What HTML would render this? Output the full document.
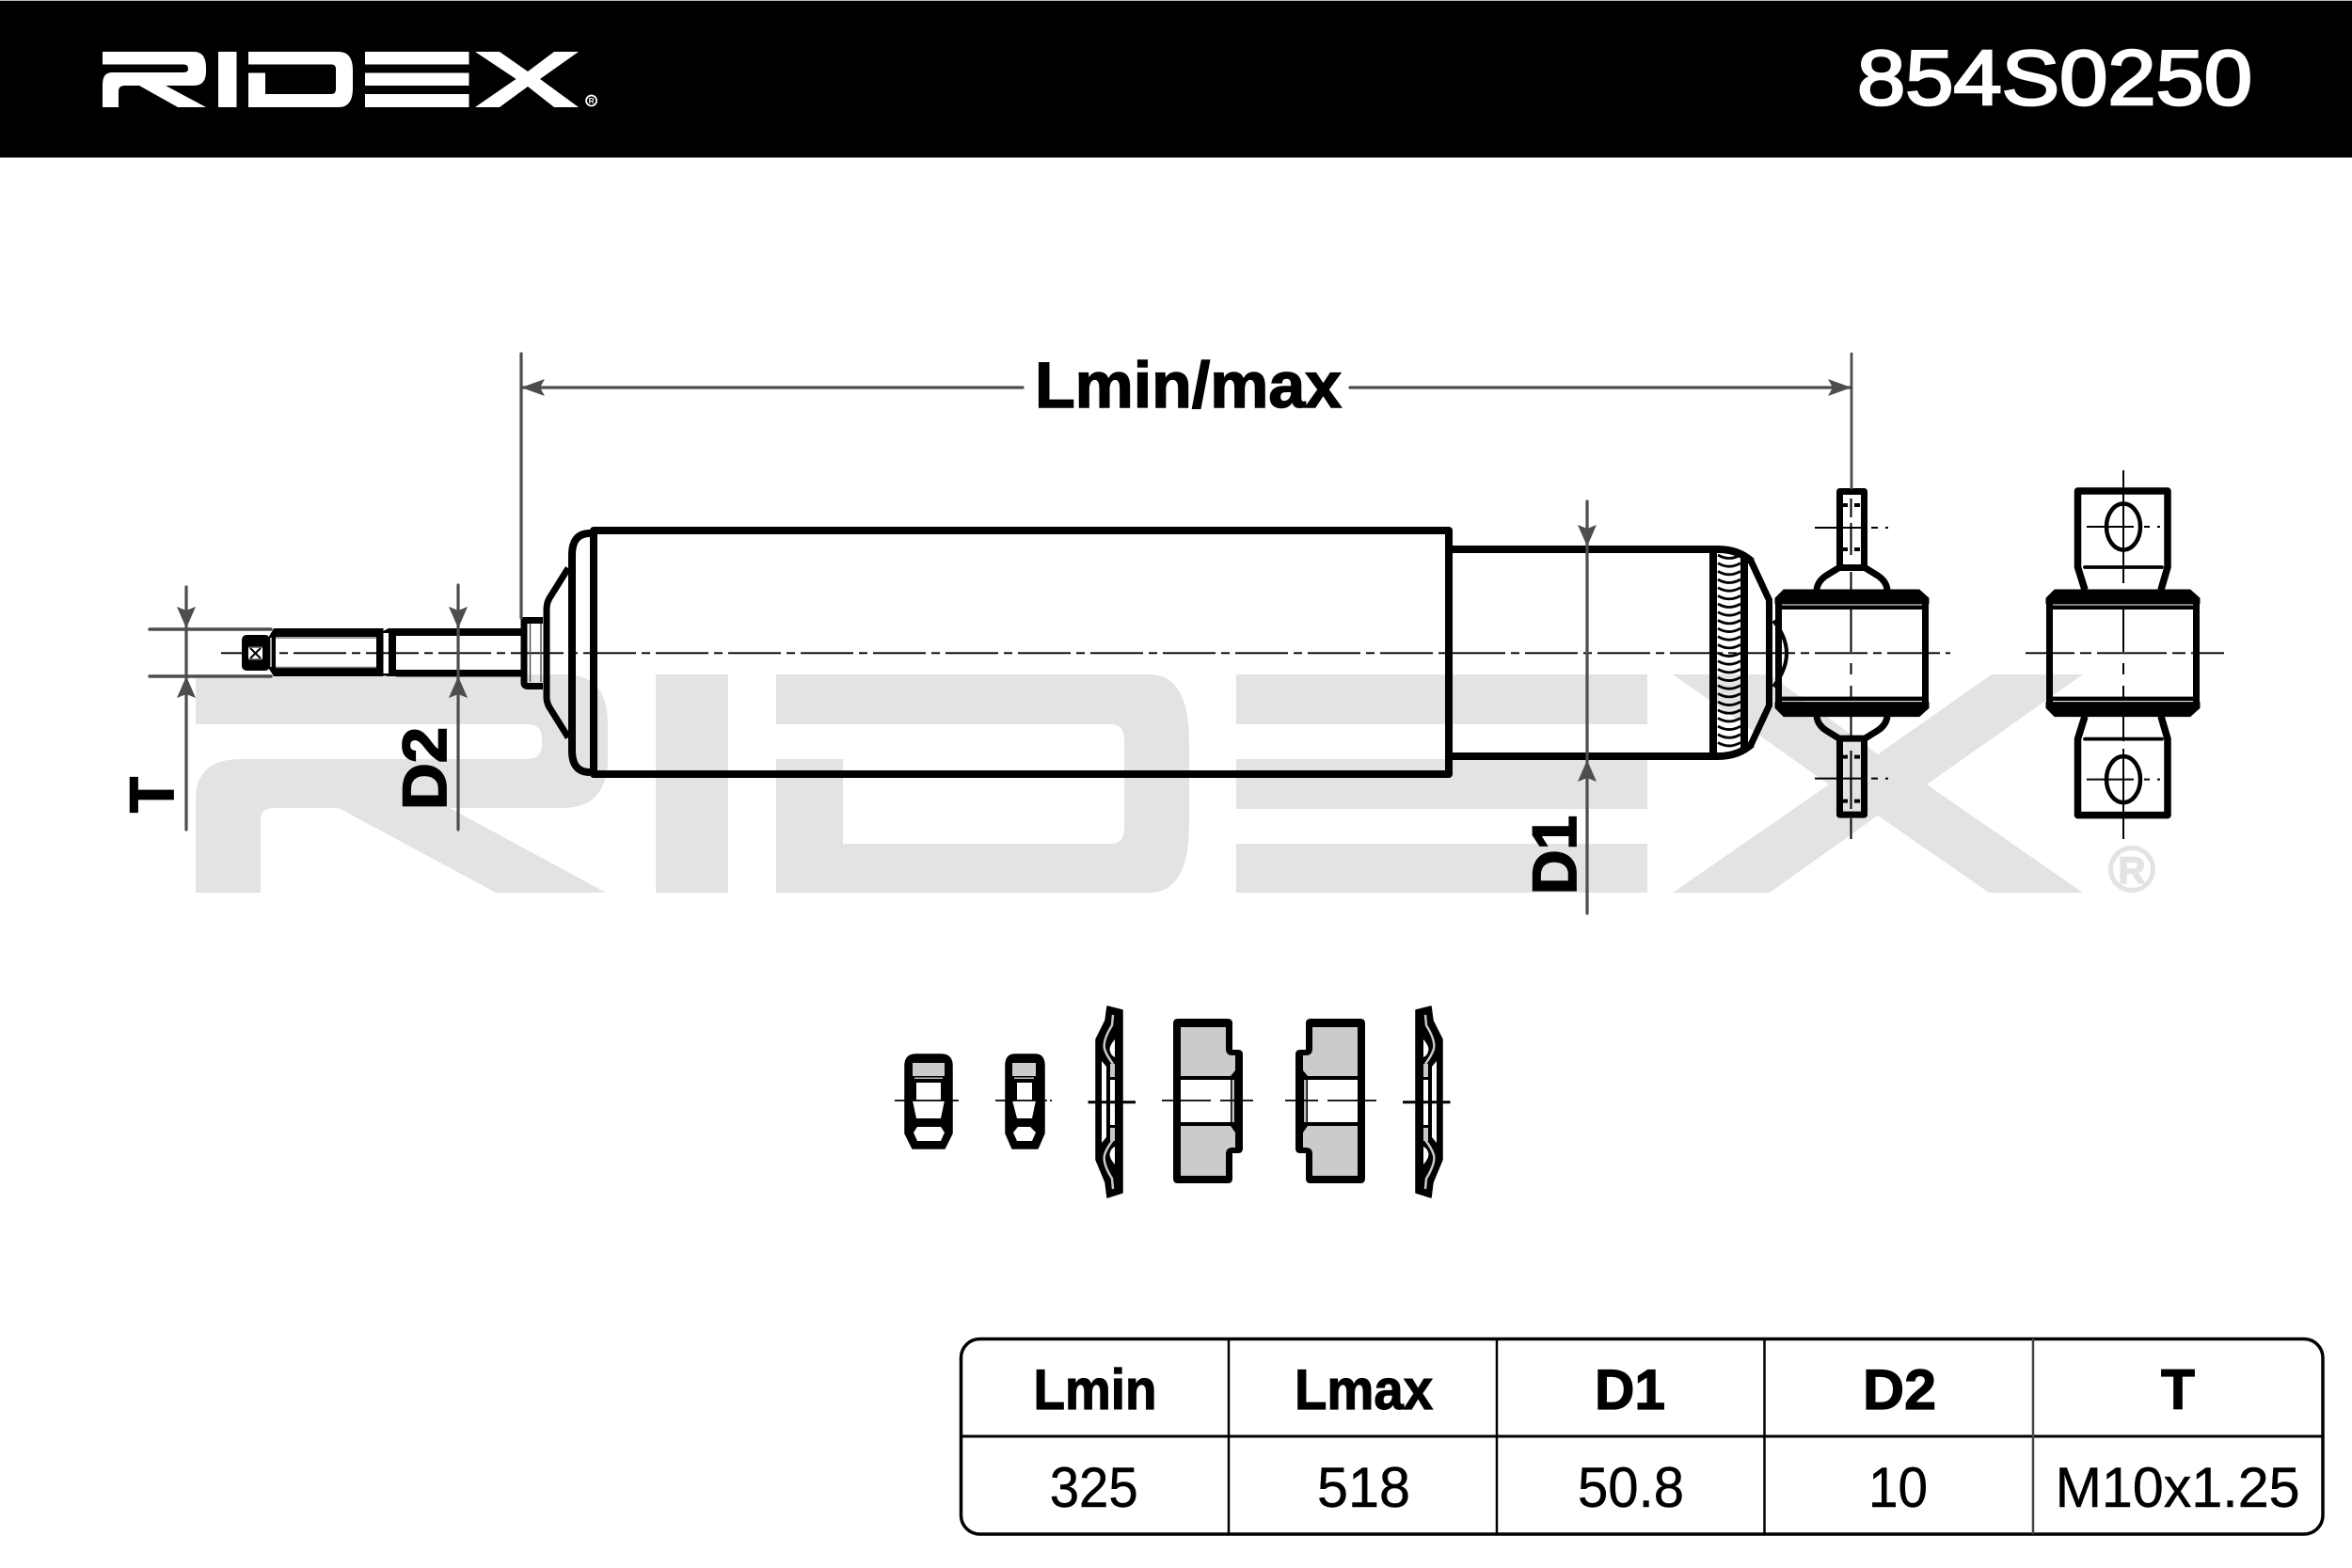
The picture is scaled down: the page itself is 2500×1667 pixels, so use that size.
<!DOCTYPE html>
<html><head><meta charset="utf-8"><style>
html,body{margin:0;padding:0;background:#fff}
svg{display:block}
text{font-family:"Liberation Sans",sans-serif}
.b{font-weight:bold}
</style></head><body>
<svg xmlns="http://www.w3.org/2000/svg" xmlns:xlink="http://www.w3.org/1999/xlink" width="2500" height="1667" viewBox="0 0 2500 1667">
<rect width="2500" height="1667" fill="#fff"/>
<!-- header -->
<rect x="0" y="0" width="2500" height="1" fill="#bbb"/>
<rect x="0" y="1" width="2500" height="166.500" fill="#000"/>
<g fill="#fff">
<path d="M109,55H206Q219,55 219,72V76Q219,91 206,91H176L219,114H189L148,91H133Q126,91 126,97V114H109V90Q109,77 119,77H195Q200,77 200,73Q200,68.500 195,68.500H109Z"/>
<rect x="232" y="55" width="19.500" height="59"/>
<path d="M264,55H360Q375,55 375,75V94Q375,114 360,114H264V77.500H282V100H352Q357,100 357,95V73Q357,68.500 352,68.500H264Z"/>
<rect x="388" y="55" width="110.500" height="13.500"/><rect x="388" y="77.500" width="110.500" height="13.500"/><rect x="388" y="100" width="110.500" height="14"/>
<path d="M505,55H531L561,76L589,55H615L574,84L615,114H589L561,92L531,114H505L548.500,84Z"/>
</g>
<circle cx="628.600" cy="107" r="5.500" fill="none" stroke="#fff" stroke-width="1.800"/>
<text x="628.600" y="110" font-size="8" class="b" fill="#fff" text-anchor="middle">R</text>
<text x="1974" y="111" font-size="83" fill="#fff" stroke="#fff" stroke-width="2.600" textLength="420" lengthAdjust="spacingAndGlyphs">854S0250</text>

<!-- watermark -->
<g fill="#e3e3e3">
<path d="M208,717H600Q646,717 646,770V806Q646,859 598,859H478L644,949H527L360,859H290Q277,859 277,872V949H208V850Q208,807 256,807H560Q576,807 576,792V785Q576,770 560,770H208Z"/>
<rect x="697" y="717" width="77" height="232"/>
<path d="M825,717H1222Q1264,717 1264,790V876Q1264,949 1222,949H825V807H896V897H1180Q1195,897 1195,880V787Q1195,770 1180,770H825Z"/>
<rect x="1314" y="717" width="437" height="53"/><rect x="1314" y="807" width="437" height="53"/><rect x="1314" y="897" width="437" height="52"/>
<path d="M1778,717H1881L1996,802L2117,717H2214L2048,834L2214,949H2114L1996,867L1881,949H1778L1944,834Z"/>
</g>
<circle cx="2266" cy="924" r="22.500" fill="none" stroke="#e3e3e3" stroke-width="5"/>
<text x="2266" y="939" font-size="40" class="b" fill="#e3e3e3" stroke="#e3e3e3" stroke-width="1.500" text-anchor="middle">R</text>

<!-- center line -->
<g stroke="#000" stroke-width="1.800" fill="none">
<path d="M235,694.300H2073" stroke-dasharray="56 6 9 6"/>
<path d="M2153,694.300H2365" stroke-dasharray="52 6 12 6 74 6 14 6 3 2 30"/>
</g>

<!-- rod -->
<g fill="#000">
<rect x="257" y="675" width="30" height="38" rx="5"/>
<path d="M284,680L291,668H407V677H293V710H407V719H291L284,708Z"/>
<rect x="400" y="668" width="7.500" height="51"/>
<path d="M407,671L413,668V673H407ZM407,716H413V719L407,718Z"/>
<rect x="413" y="668" width="8" height="51"/>
<rect x="421" y="668" width="135" height="8"/>
<rect x="421" y="712" width="135" height="7.500"/>
</g>
<rect x="264" y="688" width="15" height="13" fill="#fff"/>
<path d="M266,689L277,700M277,689L266,700" stroke="#000" stroke-width="2" fill="none"/>
<path d="M264,688H279M264,701H279" stroke="#555" stroke-width="1.500" fill="none"/>
<path d="M288,678V709" stroke="#fff" stroke-width="1.300"/>
<path d="M293,678H400M293,709.500H400" stroke="#777" stroke-width="1.500"/>
<!-- flange -->
<path d="M577,659.500H557V726Q557,729.500 561,729.500H577" fill="none" stroke="#000" stroke-width="7"/>
<path d="M563.500,663V725M575,663V725" stroke="#555" stroke-width="1.500"/>
<!-- dust cover -->
<g fill="none" stroke="#000">
<path d="M627,567Q608,567 608,590V798Q608,821 627,821" stroke-width="8"/>
<path d="M604,604L584,636Q581,641 581,648V741Q581,747 584,752L604,784" stroke-width="7"/>
<rect x="631" y="564" width="909" height="259" stroke-width="8" stroke-linejoin="round"/>
<!-- tube -->
<path d="M1541,584H1826Q1848,584 1862,597M1541,804H1826Q1848,804 1862,791" stroke-width="8"/>
<path d="M1821,584V804" stroke-width="8"/>
<path d="M1854,592V796" stroke-width="8"/>
<path d="M1860,594L1880.500,638V750L1860,794" stroke-width="7"/>
<path d="M1826,590q12,7 24,0m-24,8.670q12,7 24,0m-24,8.670q12,7 24,0m-24,8.670q12,7 24,0m-24,8.670q12,7 24,0m-24,8.670q12,7 24,0m-24,8.670q12,7 24,0m-24,8.670q12,7 24,0m-24,8.670q12,7 24,0m-24,8.670q12,7 24,0m-24,8.670q12,7 24,0m-24,8.670q12,7 24,0m-24,8.670q12,7 24,0m-24,8.670q12,7 24,0m-24,8.670q12,7 24,0m-24,8.670q12,7 24,0m-24,8.670q12,7 24,0m-24,8.670q12,7 24,0m-24,8.670q12,7 24,0m-24,8.670q12,7 24,0m-24,8.670q12,7 24,0m-24,8.670q12,7 24,0m-24,8.670q12,7 24,0m-24,8.670q12,7 24,0" stroke-width="2.800"/>
<path d="M1885,660Q1913,694 1885,730" stroke-width="4"/>
</g>

<defs>
<g id="bh">
<path d="M1887,640V636L1896,627H2040L2050,636V640V642H1887Z" fill="#000" stroke="#000" stroke-width="1" stroke-linejoin="round"/>
<rect x="1887" y="643.500" width="163" height="4.500" fill="#000"/>
<rect x="1887" y="636" width="7" height="60" fill="#000"/>
<rect x="2043" y="636" width="7" height="60" fill="#000"/>
</g>
</defs>

<!-- left view eye -->
<use xlink:href="#bh" href="#bh"/>
<use xlink:href="#bh" href="#bh" transform="matrix(1 0 0 -1 0 1388.600)"/>
<use xlink:href="#bh" href="#bh" transform="translate(288,0)"/>
<use xlink:href="#bh" href="#bh" transform="translate(288,0) matrix(1 0 0 -1 0 1388.600)"/>

<g id="stT" fill="none" stroke="#000">
<path d="M1955.500,604V522.500H1981.500V604" stroke-width="7" stroke-linejoin="round"/>
<path d="M1953,603.500H1984" stroke-width="7"/>
<path d="M1954,604L1941,612Q1932,618 1931,627M1983,604L1996,612Q2005,618 2006,627" stroke-width="7"/>
<path d="M1959,537H1964M1971,537H1977M1959,584H1964M1971,584H1977" stroke-width="4"/>
<path d="M1929,561H1979M1989,561H1996M2004,561H2007" stroke-width="2"/>
</g>
<use xlink:href="#stT" href="#stT" transform="matrix(1 0 0 -1 0 1388.600)"/>

<!-- right view tabs -->
<g id="tabT" fill="none" stroke="#000">
<path d="M2216,627L2208.500,603V522H2304V603L2297,627" stroke-width="7.500" stroke-linejoin="round"/>
<path d="M2216,603H2298" stroke-width="3.800" stroke-linecap="round"/>
<ellipse cx="2257" cy="560" rx="18" ry="24.500" stroke-width="4.500"/>
<path d="M2218,560H2268M2279,560H2285M2293,560H2296" stroke-width="2"/>
</g>
<use xlink:href="#tabT" href="#tabT" transform="matrix(1 0 0 -1 0 1388.600)"/>

<!-- vertical center lines -->
<g stroke="#000" stroke-width="2" fill="none">
<path d="M1967.500,530V550M1967.500,556V590M1967.500,608V627M1967.500,647V693M1967.500,705V717M1967.500,729V742M1967.500,762V785M1967.500,798V860M1967.500,870V892"/>
<path d="M2257,500V620M2257,647V693M2257,705V717M2257,729V742M2257,762V788M2257,796V892"/>
</g>

<!-- dimensions -->
<g stroke="#4d4d4d" stroke-width="3.200" fill="none" stroke-linecap="round">
<path d="M554,376V657"/>
<path d="M1968,376V519" stroke-width="2.800"/>
<path d="M554,412H1087M1435,412H1968"/>
<path d="M159,669H288M159,719H288" stroke-width="3.400"/>
<path d="M198,624V882"/>
<path d="M487,622V882"/>
<path d="M1687,533V971"/>
</g>
<g fill="#4d4d4d">
<path d="M554,412L579,403L574,412L579,421Z"/>
<path d="M1968,412L1943,403L1948,412L1943,421Z"/>
<path d="M198,668L188,645L198,649L208,645Z"/>
<path d="M198,719L188,742L198,738L208,742Z"/>
<path d="M487,668L477,645L487,649L497,645Z"/>
<path d="M487,719L477,742L487,738L497,742Z"/>
<path d="M1687,581L1677,558L1687,562L1697,558Z"/>
<path d="M1687,808L1677,831L1687,827L1697,831Z"/>
</g>
<text x="1100" y="433" font-size="69" class="b" fill="#000" stroke="#000" stroke-width="1.500" textLength="326" lengthAdjust="spacingAndGlyphs">Lmin/max</text>
<text transform="translate(184,864) rotate(-90)" font-size="66" class="b" fill="#000" stroke="#000" stroke-width="1.800" textLength="38" lengthAdjust="spacingAndGlyphs">T</text>
<text transform="translate(474,861) rotate(-90)" font-size="66" class="b" fill="#000" stroke="#000" stroke-width="1.800" textLength="88" lengthAdjust="spacingAndGlyphs">D2</text>
<text transform="translate(1675,951) rotate(-90)" font-size="66" class="b" fill="#000" stroke="#000" stroke-width="1.800" textLength="84" lengthAdjust="spacingAndGlyphs">D1</text>

<!-- small parts: nut 1 -->
<path d="M974,1121H1000Q1012,1121 1012,1133V1205L1004,1221H970L962,1205V1133Q962,1121 974,1121Z" fill="#000" stroke="#000" stroke-width="1.500" stroke-linejoin="round"/>
<rect x="970" y="1130" width="34" height="14" fill="#cbcbcb"/>
<rect x="972" y="1145.500" width="30" height="1.500" fill="#bbb"/>
<rect x="974" y="1151" width="26" height="19" fill="#fff"/>
<path d="M970,1170H1004L1000,1189H974Z" fill="#fff"/>
<path d="M971,1204L975,1198H1000L1004,1204L1000,1213H975Z" fill="#fff"/>
<path d="M951,1170H1019" stroke="#000" stroke-width="1.800"/>
<!-- nut 2 -->
<path d="M1079,1121H1100Q1110,1121 1110,1133V1205L1103,1221H1076L1069,1205V1133Q1069,1121 1079,1121Z" fill="#000" stroke="#000" stroke-width="1.500" stroke-linejoin="round"/>
<rect x="1076" y="1130" width="25" height="14" fill="#cbcbcb"/>
<rect x="1078" y="1145.500" width="21" height="1.500" fill="#bbb"/>
<rect x="1081" y="1151" width="16" height="19" fill="#fff"/>
<path d="M1076,1170H1101L1097,1189H1081Z" fill="#fff"/>
<path d="M1077,1204L1082,1198H1095L1101,1204L1097,1213H1081Z" fill="#fff"/>
<path d="M1058,1170H1113M1116,1170H1118" stroke="#000" stroke-width="1.800"/>

<!-- washer + bush, then mirrored -->
<g id="pr">
<path d="M1177,1070L1193,1074V1268L1177,1273L1175,1257L1165,1233V1105L1175,1085Z" fill="#000" stroke="#000" stroke-width="1.500" stroke-linejoin="round"/>
<path d="M1171,1128L1176,1134V1209L1171,1215Z" fill="#fff"/>
<rect x="1180" y="1148" width="5" height="48" fill="#fff"/>
<rect x="1180" y="1131" width="5" height="14" fill="#c8c8c8"/>
<rect x="1180" y="1199" width="5" height="14" fill="#c8c8c8"/>
<path d="M1185,1105Q1178,1113 1180,1118Q1181,1122 1185,1124Z" fill="#fff"/>
<path d="M1185,1238Q1178,1230 1180,1225Q1181,1221 1185,1219Z" fill="#fff"/>
<path d="M1183,1079L1182,1090Q1172,1106 1174,1115Q1176,1122 1183,1131" fill="none" stroke="#c8c8c8" stroke-width="2.500"/>
<path d="M1183,1264L1182,1253Q1172,1237 1174,1228Q1176,1221 1183,1212" fill="none" stroke="#c8c8c8" stroke-width="2.500"/>
<path d="M1156.500,1171.700H1207" stroke="#000" stroke-width="3"/>
<path d="M1247,1088Q1247,1083 1252,1083H1305Q1310,1083 1310,1088V1116H1316Q1321,1116 1321,1121V1221Q1321,1226 1316,1226H1310V1253Q1310,1258 1305,1258H1252Q1247,1258 1247,1253Z" fill="#000"/>
<path d="M1255,1092H1303V1115Q1303,1122 1310,1122H1313V1138L1308,1144H1255Z" fill="#cbcbcb"/>
<path d="M1255,1250H1303V1227Q1303,1220 1310,1220H1313V1204L1308,1197H1255Z" fill="#cbcbcb"/>
<rect x="1255" y="1148" width="53" height="45" fill="#fff"/>
<rect x="1309.500" y="1148" width="2.500" height="45" fill="#bbb"/>
<path d="M1235,1170H1287M1297,1170H1312M1320,1170H1332" stroke="#000" stroke-width="1.800"/>
</g>
<use xlink:href="#pr" href="#pr" transform="matrix(-1 0 0 1 2698 0)"/>

<!-- table -->
<g fill="none" stroke="#000">
<rect x="1021.500" y="1423.500" width="1447.500" height="207.500" rx="20" ry="20" stroke-width="3.500"/>
<path d="M1021,1527H2469" stroke-width="3"/>
<path d="M1306,1423V1631M1591,1423V1631M1875.500,1423V1631" stroke-width="2.500"/>
<path d="M2161,1423V1631" stroke="#444" stroke-width="2.500"/>
</g>
<g font-size="60" fill="#000" stroke="#000" stroke-width="1.200">
<text x="1098.500" y="1498" class="b" textLength="131" lengthAdjust="spacingAndGlyphs">Lmin</text>
<text x="1376" y="1498" class="b" textLength="147" lengthAdjust="spacingAndGlyphs">Lmax</text>
<text x="1695" y="1498" class="b" textLength="75" lengthAdjust="spacingAndGlyphs">D1</text>
<text x="1980" y="1498" class="b" textLength="78" lengthAdjust="spacingAndGlyphs">D2</text>
<text x="2297" y="1498" class="b" textLength="36" lengthAdjust="spacingAndGlyphs">T</text>
</g>
<g font-size="60" fill="#000" stroke="#000" stroke-width="0.500">
<text x="1115.700" y="1602" textLength="94" lengthAdjust="spacingAndGlyphs">325</text>
<text x="1400" y="1602" textLength="99" lengthAdjust="spacingAndGlyphs">518</text>
<text x="1677" y="1602" textLength="113" lengthAdjust="spacingAndGlyphs">50.8</text>
<text x="1986" y="1602" textLength="63" lengthAdjust="spacingAndGlyphs">10</text>
<text x="2184.600" y="1602" textLength="260" lengthAdjust="spacingAndGlyphs">M10x1.25</text>
</g>
</svg>
</body></html>
